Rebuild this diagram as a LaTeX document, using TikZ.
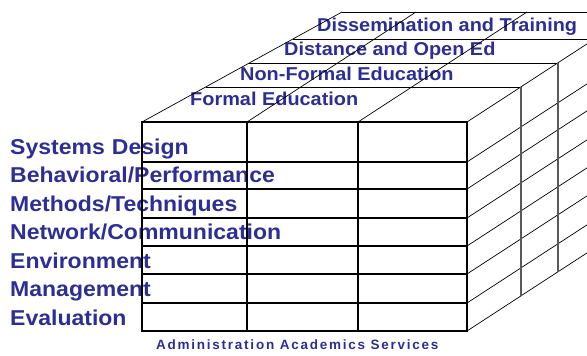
\documentclass[tikz,border=0pt]{standalone}
\usepackage{fontspec}
\setmainfont{Liberation Sans}
\newfontfamily\cubefont[FakeStretch=1.07]{Liberation Sans}
\newfontfamily\axisfont[LetterSpace=13]{Liberation Sans}
\usetikzlibrary{positioning}
\definecolor{cubeblue}{RGB}{44,46,150}
\tikzset{rowlabel/.style={font={\cubefont\bfseries\fontsize{21.5pt}{24pt}\selectfont},text=cubeblue,
                          inner sep=0pt,text width=300pt,align=left,text height=19pt,text depth=9.1pt},
         layerlabel/.style={font={\cubefont\bfseries\fontsize{18.6pt}{20pt}\selectfont},text=cubeblue,
                          inner sep=0pt,anchor=base west},
         axislabel/.style={font={\axisfont\bfseries\fontsize{13.5pt}{14pt}\selectfont},text=cubeblue,
                          inner sep=0pt,anchor=base west},
         frontline/.style={line width=1.1pt,black},
         depthline/.style={line width=0.7pt,black},
         backline/.style={line width=1.1pt,black!65}
}

\begin{document}
\begin{tikzpicture}[x=1pt,y=-1pt]
\useasboundingbox (0,0) rectangle (587,356);
\clip (0,0) rectangle (587,356);

% row labels
\node[rowlabel,anchor=base west] (sysdesign) at (10,154) {Systems Design};
\node[rowlabel,below=0pt of sysdesign] (behavior) {Behavioral/Performance};
\node[rowlabel,below=0pt of behavior] (methods) {Methods/Techniques};
\node[rowlabel,below=0pt of methods] (network) {Network/Communication};
\node[rowlabel,below=0pt of network] (environ) {Environment};
\node[rowlabel,below=0pt of environ] (manage) {Management};
\node[rowlabel,below=0pt of manage] (evaluation) {Evaluation};

% layer labels
\node[layerlabel] (formal) at (190,105) {Formal Education};
\node[layerlabel] (nonformal) at (240,80) {Non-Formal Education};
\node[layerlabel] (distance) at (284,55) {Distance and Open Ed};
\node[layerlabel] (dissem) at (317,31) {Dissemination and Training};

% column labels
\node[axislabel] (columns) at (156,349.5) {Administration Academics Services};

% front face
\coordinate (ftl) at (142,122);
\coordinate (fbr) at (467,331);
\draw[frontline] (ftl) rectangle (fbr);
\foreach \y in {162,189,218,246,274,303}
  \draw[frontline] (142,\y) -- (467,\y);
\foreach \x in {247,358}
  \draw[frontline] (\x,122) -- (\x,331);

% top face
\draw[depthline] (ftl) -- (342,12);
\foreach \x in {247,358,467}
  \draw[depthline] (\x,122) -- ++(169,-110);
\draw[depthline] (205.6,87) -- (521,87);
\draw[depthline] (249.3,63) -- (558,63);
\draw[depthline] (292.9,39) -- (595,39);
\draw[depthline] (342,12) -- (636,12);

% right face
\foreach \y in {162,189,218,246,274,303,331}
  \draw[depthline] (467,\y) -- ++(169,-110);
\draw[backline] (521,87) -- (521,296);
\draw[backline] (558,63) -- (558,272);

\end{tikzpicture}
\end{document}
